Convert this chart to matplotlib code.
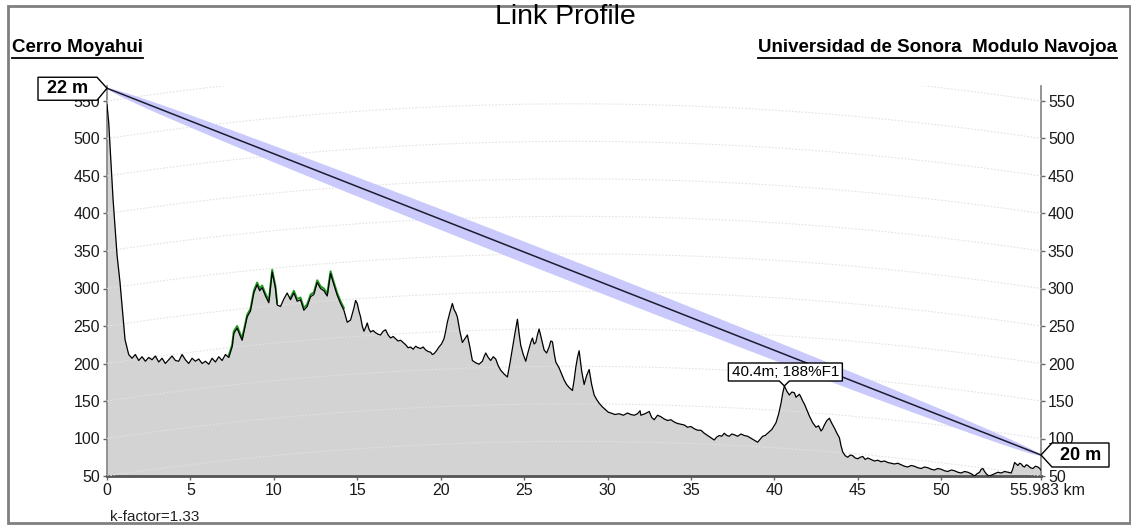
import numpy as np
import matplotlib
matplotlib.use("Agg")
import matplotlib.pyplot as plt
import matplotlib.transforms as mtransforms
from matplotlib.patches import Polygon, Rectangle
from matplotlib.lines import Line2D

plt.rcParams['font.family'] = ['Liberation Sans', 'DejaVu Sans']

# Perfil del terreno (km, m)
distancia = [0, 0.1, 0.36, 0.6, 0.78, 1.08, 1.3, 1.5, 1.7, 1.9, 2.1, 2.3, 2.5, 2.7, 2.9,
             3.1, 3.3, 3.5, 3.7, 3.9, 4.1, 4.3, 4.5, 4.7, 4.9, 5.1, 5.3, 5.5, 5.7, 5.9,
             6.1, 6.3, 6.5, 6.7, 6.9, 7.1, 7.3, 7.5, 7.6, 7.8, 8.0, 8.1, 8.4, 8.6, 8.8,
             9.0, 9.15, 9.3, 9.5, 9.7, 9.9, 10.1, 10.2, 10.4, 10.6, 10.8, 11.0, 11.2, 11.4,
             11.6, 11.8, 12.0, 12.2, 12.4, 12.6, 12.8, 13.0, 13.2, 13.4, 13.6, 13.8, 14.0,
             14.2, 14.4, 14.6, 14.8, 14.9,
             15.0, 15.1, 15.2, 15.3, 15.4, 15.5, 15.6, 15.7, 15.8, 15.95, 16.1, 16.25, 16.4,
             16.55, 16.7, 16.85, 17.0, 17.15, 17.3, 17.45, 17.6, 17.75, 17.9, 18.05, 18.2,
             18.35, 18.5, 18.65, 18.8, 18.95, 19.1, 19.25, 19.4, 19.5, 19.6, 19.75, 19.9,
             20.05, 20.2, 20.3, 20.4, 20.55, 20.7, 20.8, 20.9, 21.0, 21.15, 21.3, 21.45,
             21.6, 21.75, 21.9, 22.1, 22.3, 22.5, 22.6, 22.7, 22.85, 23.0, 23.15, 23.3,
             23.45, 23.6, 23.8, 24.0, 24.15, 24.3, 24.45, 24.6, 24.7, 24.8, 24.95, 25.1,
             25.2, 25.3, 25.4, 25.5, 25.6, 25.7, 25.8, 25.9, 26.05, 26.2, 26.35, 26.5, 26.6,
             26.7, 26.8, 26.9, 27.0, 27.1, 27.25, 27.4, 27.55, 27.7, 27.8, 27.9, 28.0, 28.1,
             28.2, 28.3, 28.45, 28.6, 28.75, 28.9, 29.05, 29.2, 29.35, 29.5, 29.7, 29.9,
             30.05, 30.2, 30.45, 30.7, 30.95, 31.2, 31.4, 31.6, 31.8, 31.95, 32.0, 32.25,
             32.5, 32.65, 32.8, 33.0, 33.2, 33.4, 33.6, 33.8, 34.0, 34.2, 34.4, 34.6, 34.8,
             35.0, 35.2, 35.4, 35.6, 35.8, 36.0, 36.2, 36.4, 36.55, 36.7, 36.85, 37.0, 37.15,
             37.3, 37.45, 37.6, 37.8, 38.0, 38.2, 38.4, 38.55, 38.7, 38.85, 39.0, 39.15, 39.3,
             39.45, 39.6, 39.85, 40.1, 40.25, 40.4, 40.5, 40.6, 40.75, 40.9, 41.05, 41.2,
             41.3, 41.4, 41.5, 41.6, 41.7, 41.8, 41.95, 42.1, 42.3, 42.5, 42.65, 42.8, 42.9,
             43.0, 43.15, 43.3, 43.45, 43.6, 43.75, 43.9, 44.0, 44.1, 44.25, 44.4, 44.55,
             44.7, 44.85, 45.0, 45.15, 45.3, 45.45, 45.6, 45.8, 46.0, 46.2, 46.4, 46.6, 46.8,
             47.0, 47.2, 47.4, 47.6, 47.8, 48.0, 48.2, 48.4, 48.6, 48.8, 49.0, 49.2, 49.4,
             49.6, 49.8, 50.0, 50.2, 50.4, 50.6, 50.8, 51.0, 51.2, 51.4, 51.6, 51.8, 52.0,
             52.15, 52.3, 52.4, 52.5, 52.6, 52.7, 52.85, 53.0, 53.2, 53.4, 53.6, 53.8, 54.0,
             54.2, 54.3, 54.4, 54.5, 54.6, 54.7, 54.8, 54.9, 55.0, 55.1, 55.2, 55.35, 55.5,
             55.65, 55.8, 55.9, 55.983]
elevacion = [545, 522, 420, 345, 308, 232, 212, 207, 212, 204, 209, 203, 208, 205, 210,
             202, 207, 200, 205, 210, 204, 203, 212, 205, 200, 207, 203, 206, 200, 203,
             199, 207, 202, 209, 204, 212, 208, 222, 240, 247, 236, 231, 262, 270, 294,
             305, 297, 301, 290, 281, 322, 300, 278, 276, 286, 294, 285, 294, 283,
             285, 271, 276, 289, 292, 308, 300, 297, 290, 320, 305, 291, 280,
             271, 255, 258, 274, 284,
             280, 270, 262, 250, 243, 248, 254, 246, 242, 244, 241, 239, 238,
             243, 245, 238, 234, 236, 233, 230, 231, 228, 225, 221, 222,
             219, 223, 221, 220, 222, 218, 216, 215, 212, 213, 217, 222,
             226, 233, 243, 255, 268, 280, 272, 268, 262, 243, 228, 233,
             238, 222, 204, 201, 199, 203, 209, 214, 208, 204, 209, 206,
             197, 191, 186, 182, 200, 220, 240, 259, 240, 224, 212, 203,
             212, 220, 228, 234, 226, 228, 238, 246, 232, 218, 214, 222, 230,
             229, 214, 202, 198, 194, 186, 178, 172, 168, 166, 164, 178, 195,
             208, 217, 190, 172, 184, 192, 172, 158, 152, 147, 142, 138,
             135, 134, 132, 133, 131, 134, 132, 131, 133, 137, 131, 133,
             136, 128, 125, 131, 129, 126, 124, 125, 122, 120, 119, 118, 115,
             116, 113, 111, 111, 107, 104, 101, 98, 102, 104, 103, 107, 104,
             103, 106, 105, 103, 106, 104, 103, 101, 99, 97, 95, 99, 103,
             104, 107, 112, 121, 132, 147, 160, 170, 163, 158, 162, 161,
             155, 157, 159, 155, 150, 146, 138, 130, 121, 115, 117, 110, 113,
             118, 124, 127, 120, 114, 107, 101, 90, 82, 77, 75, 78,
             77, 74, 73, 75, 76, 72, 74, 72, 70, 71, 69, 70, 68,
             67, 66, 67, 65, 63, 62, 64, 63, 61, 60, 62, 61, 59,
             58, 60, 59, 57, 56, 58, 57, 55, 54, 56, 55, 53, 50,
             53, 55, 59, 60, 56, 53, 50, 51, 53, 55, 54, 56, 55,
             54, 60, 68, 66, 64, 67, 66, 63, 62, 65, 64, 61, 60,
             63, 62, 60, 58]

# Tramos con vegetacion (verde)
tramos_verdes = [(7.3, 10.3), (11.0, 14.3)]

antena_tx = 22
antena_rx = 20
k_factor = 1.33
radio_tierra = 6371.0
frecuencia_ghz = 7.24
total_km = 55.983
obstaculo_km = 40.6
obstaculo_texto = "40.4m; 188%F1"
ticks_x = [0, 5, 10, 15, 20, 25, 30, 35, 40, 45, 50]
ticks_y = [50, 100, 150, 200, 250, 300, 350, 400, 450, 500, 550]

W, H = 1131, 525
fig = plt.figure(figsize=(W / 100, H / 100), dpi=100)
ax = fig.add_axes([107 / W, 49 / H, 934 / W, 390 / H])
ax.set_xlim(0, total_km)
ax.set_ylim(50, 570)

dist = np.array(distancia)
elev = np.array(elevacion)

# lineas de curvatura de la tierra
xs = np.linspace(0, total_km, 400)
bulto = xs * (total_km - xs) / (2 * k_factor * radio_tierra) * 1000
for nivel in range(0, 700, 50):
    ax.plot(xs, nivel + bulto, color='#e2e2e2', lw=0.8, ls=(0, (1.5, 1.5)), zorder=3)

# terreno
ax.fill_between(dist, 50, elev, color='#d3d3d3', lw=0, zorder=1)
for a, b in tramos_verdes:
    m = (dist >= a) & (dist <= b)
    ax.plot(dist[m], elev[m] + 3, color='#1f9a1f', lw=1.4, zorder=4)
ax.plot(dist, elev, color='black', lw=0.9, zorder=5)

# linea de vista y zona de Fresnel
h_tx = elev[0] + antena_tx
h_rx = elev[-1] + antena_rx
vista = h_tx + (h_rx - h_tx) * xs / total_km
f1 = 17.32 * np.sqrt(xs * (total_km - xs) / (frecuencia_ghz * total_km))
ax.fill_between(xs, vista - 0.6 * f1, vista + 0.6 * f1, color='#c9c9fb', lw=0, zorder=6)
ax.plot([0, total_km], [h_tx, h_rx], color='#1c1c30', lw=1.1, zorder=7)

# ejes
ax.set_xticks(ticks_x + [total_km])
ax.set_xticklabels([str(t) for t in ticks_x] + ['55.983 km'])
ax.set_yticks(ticks_y)
ax.tick_params(axis='y', left=True, right=True, labelleft=True, labelright=True,
               direction='out', length=3, width=1, color='#666666', labelsize=11.5, pad=2,
               labelcolor='#1a1a1a')
ax.tick_params(axis='x', direction='out', length=3, width=1, color='#666666',
               labelsize=11.5, pad=2, labelcolor='#1a1a1a')
# la etiqueta final va un poco a la derecha
ultima = ax.get_xticklabels()[-1]
ultima.set_transform(ultima.get_transform() +
                     mtransforms.ScaledTranslation(6 / 100, 0, fig.dpi_scale_trans))
ax.spines['top'].set_visible(False)
for s in ['left', 'right']:
    ax.spines[s].set_color('#808080')
    ax.spines[s].set_linewidth(1.2)
ax.spines['bottom'].set_color('#555555')
ax.spines['bottom'].set_linewidth(2)
ax.set_facecolor('white')


def etiqueta(x, y, vertices, texto, tx, ty, **kw):
    desplaza = mtransforms.ScaledTranslation(x, y, ax.transData)
    trans = mtransforms.IdentityTransform() + desplaza
    ax.add_patch(Polygon(vertices, closed=True, transform=trans, fc='white', ec='black',
                         lw=1, clip_on=False, zorder=10))
    ax.text(tx, ty, texto, transform=trans, ha='center', va='center', clip_on=False,
            zorder=11, **kw)


etiqueta(0, h_tx, [(-69, 11), (-10, 11), (0, 0), (-10, -12), (-69, -12)],
         f"{antena_tx} m", -39, -0.5, fontsize=13, fontweight='bold')
etiqueta(total_km, h_rx, [(0, 0), (11, 12), (68, 12), (68, -12), (11, -12)],
         f"{antena_rx} m", 40, 0, fontsize=13, fontweight='bold')
y_obs = np.interp(obstaculo_km, dist, elev)
etiqueta(obstaculo_km, y_obs, [(-56, 5), (-5, 5), (0, 0), (5, 5), (58, 5), (58, 23), (-56, 23)],
         obstaculo_texto, 1, 14, fontsize=11)

# textos de la figura
fig.text(0.5, 1 - 24 / H, "Link Profile", ha='center', va='baseline', fontsize=20.5)
t1 = fig.text(12 / W, 1 - 52 / H, "Cerro Moyahui", ha='left', va='baseline',
              fontsize=13.5, fontweight='bold')
t2 = fig.text(1117 / W, 1 - 52 / H, "Universidad de Sonora  Modulo Navojoa", ha='right',
              va='baseline', fontsize=13.5, fontweight='bold')
fig.text(110 / W, 1 - 517 / H, f"k-factor={k_factor}", ha='left', va='center',
         fontsize=11, color='#222222')

r = fig.canvas.get_renderer()
for t in [t1, t2]:
    bb = t.get_window_extent(r)
    fig.add_artist(Line2D([bb.x0 / W, bb.x1 / W], [1 - 58 / H, 1 - 58 / H],
                          transform=fig.transFigure, color='black', lw=1.3))

# marco
fig.add_artist(Rectangle((8 / W, 2 / H), 1122 / W, 517 / H, transform=fig.transFigure,
                         fill=False, ec='#7f7f7f', lw=2))

fig.savefig("out.png", dpi=100)
